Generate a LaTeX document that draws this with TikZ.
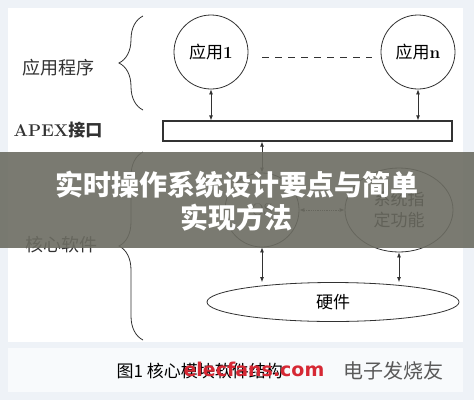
\documentclass[tikz,border=0pt]{standalone}
\usepackage{fontspec}
\usepackage{xcolor}
\usepackage{tikz}
\usetikzlibrary{arrows.meta,shapes.geometric,decorations.pathreplacing}
\newfontfamily\cjk{Noto Sans CJK SC}
\newfontfamily\wmfont{DejaVu Sans}

\definecolor{inkgray}{RGB}{50,50,50}
\definecolor{bannergray}{RGB}{108,108,98}
\definecolor{pagebg}{RGB}{238,242,247}
\definecolor{wmred}{RGB}{214,40,52}

\tikzset{
  app/.style={circle,draw=inkgray,thick,minimum size=74pt,inner sep=0pt,font=\cjk\fontsize{17}{20}\selectfont},
  oval/.style={ellipse,draw=inkgray,thick,inner sep=0pt,font=\cjk\fontsize{17}{21}\selectfont,align=center},
  lbl/.style={font=\cjk\fontsize{18}{20}\selectfont,text=inkgray},
  dbl/.style={{Latex[length=5pt,width=4pt]}-{Latex[length=5pt,width=4pt]},thick,draw=inkgray},
  grp/.style={decorate,decoration={brace,amplitude=24pt},draw=inkgray,thick}
}

\begin{document}
\begin{tikzpicture}[x=1pt,y=-1pt]
\useasboundingbox (0,0) rectangle (474,400);
\fill[pagebg] (0,0) rectangle (474,400);
\fill[white] (8,8) rectangle (463,342);
\fill[white!60!pagebg] (8,348) rectangle (463,392);

% application layer
\node[lbl] (applbl) at (58,68) {应用程序};
\node[app] (app1) at (211,52) {应用{\rmfamily\bfseries 1}};
\node[app] (appn) at (418,52) {应用{\rmfamily\bfseries n}};
\draw[inkgray,thick,dash pattern=on 7pt off 6pt] ([xshift=14pt,yshift=-5pt]app1.east) -- ([xshift=-9pt,yshift=-5pt]appn.west);
\draw[grp] (143,110) -- (143,16);

% APEX
\node[font=\fontsize{17}{20}\selectfont\bfseries,text=inkgray] (apexlbl) at (58,130) {APEX{\cjk 接口}};
\node[draw=inkgray,line width=1.3pt,minimum width=289pt,minimum height=20pt,inner sep=0pt] (apex) at (307.5,131) {};
\draw[dbl] (app1.south) -- (app1.south |- apex.north);
\draw[dbl] (appn.south) -- (appn.south |- apex.north);

% core software
\node[lbl] (corelbl) at (61,245) {核心软件};
\node[app] (os) at (262,210) {\rmfamily OS};
\node[oval,minimum width=108pt,minimum height=84pt] (sys) at (399,210) {系统指\\定功能};
\node[oval,minimum width=252pt,minimum height=39pt] (hw) at (333,302) {硬件};
\draw[dbl] (apex.south -| os) -- (os.north);
\draw[dbl,densely dotted] (os.east) -- (sys.west);
\draw[dbl] (os.south) -- (os.south |- hw.north);
\draw[dbl] (sys.south) -- (sys.south |- hw.north);
\draw[grp] (143,340) -- (143,152);

% caption
\node[font=\cjk\fontsize{17}{20}\selectfont,anchor=west] (cap) at (113,371) {图1 核心模块软件结构};
\node[font=\wmfont\bfseries\fontsize{19}{22}\selectfont,text=wmred,anchor=west] (wm) at (180,369) {elecfans.com};
\node[font=\cjk\fontsize{20}{22}\selectfont,text=black!65,anchor=west] (wmcn) at (340,371) {电子发烧友};

% title banner
\fill[bannergray,fill opacity=0.9] (0,152) rectangle (474,248);
\node[font=\cjk\bfseries\fontsize{28}{33}\selectfont,text=white,align=center] (title) at (237,201) {实时操作系统设计要点与简单\\实现方法};
\end{tikzpicture}
\end{document}
